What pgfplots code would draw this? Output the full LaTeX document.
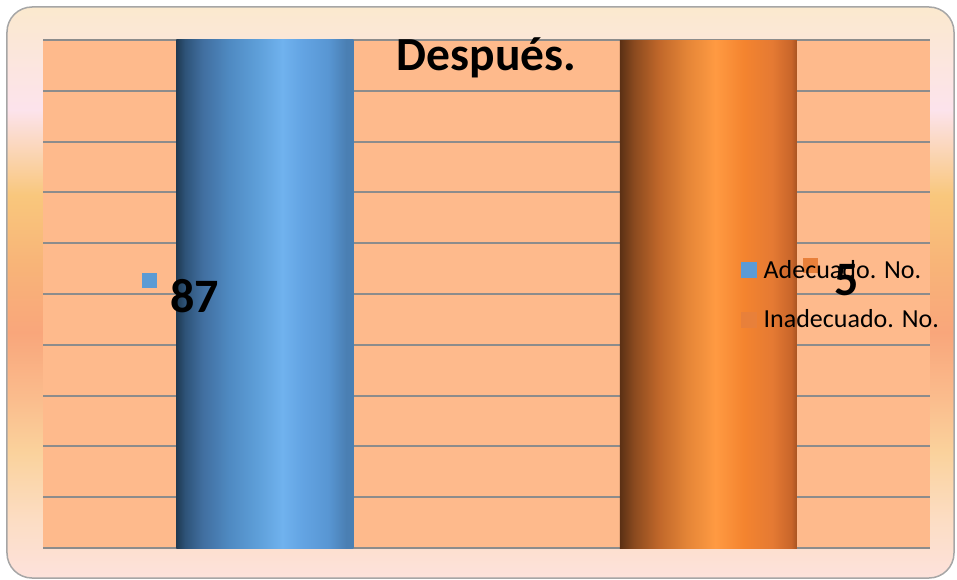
\documentclass[border=0pt]{standalone}
\usepackage{pgfplots}
\pgfplotsset{compat=1.18}
\usepackage{fontspec}
\setmainfont{Carlito}

\definecolor{plotbg}{HTML}{FEBA8C}
\definecolor{gridgray}{HTML}{8C8C8C}
\definecolor{framegray}{HTML}{A6A6A6}
\definecolor{adeq}{HTML}{5B9BD5}
\definecolor{inad}{HTML}{E8803A}

\definecolor{bgA}{HTML}{FBE9CE}
\definecolor{bgB}{HTML}{FCE3EC}
\definecolor{bgC}{HTML}{F9C77C}
\definecolor{bgD}{HTML}{F8B478}
\definecolor{bgE}{HTML}{F9A67B}
\definecolor{bgF}{HTML}{FABB8C}
\definecolor{bgG}{HTML}{FAD29C}
\definecolor{bgH}{HTML}{FCDDC4}
\definecolor{bgI}{HTML}{FDE2DC}

\pgfdeclareverticalshading{bgshade}{100bp}{%
 color(0bp)=(bgI); color(25bp)=(bgI);
 color(30bp)=(bgH); color(36bp)=(bgG); color(41bp)=(bgF);
 color(46.5bp)=(bgE); color(52.5bp)=(bgD); color(58.5bp)=(bgC);
 color(66bp)=(bgB); color(75bp)=(bgA); color(100bp)=(bgA)}

\definecolor{bl0}{HTML}{1F3A52}
\definecolor{bl1}{HTML}{2E5378}
\definecolor{bl2}{HTML}{416FA0}
\definecolor{bl3}{HTML}{4F8AC2}
\definecolor{bl4}{HTML}{5E9FD9}
\definecolor{bl5}{HTML}{70B2EE}
\definecolor{bl6}{HTML}{64A5E4}
\definecolor{bl7}{HTML}{5896D3}
\definecolor{bl8}{HTML}{4A7FB3}
\pgfdeclarehorizontalshading{blueshade}{100bp}{%
 color(0bp)=(bl0); color(25bp)=(bl0);
 color(27.5bp)=(bl1); color(32.5bp)=(bl2); color(40bp)=(bl3);
 color(48bp)=(bl4); color(55bp)=(bl5); color(60bp)=(bl6);
 color(68bp)=(bl7); color(73bp)=(bl8); color(75bp)=(bl8); color(100bp)=(bl8)}

\definecolor{or0}{HTML}{5B3014}
\definecolor{or1}{HTML}{8A4A1F}
\definecolor{or2}{HTML}{C0672A}
\definecolor{or3}{HTML}{E48537}
\definecolor{or4}{HTML}{FF9A42}
\definecolor{or5}{HTML}{F4842F}
\definecolor{or6}{HTML}{E57A33}
\definecolor{or7}{HTML}{C8652A}
\definecolor{or8}{HTML}{A85522}
\pgfdeclarehorizontalshading{orangeshade}{100bp}{%
 color(0bp)=(or0); color(25bp)=(or0);
 color(29bp)=(or1); color(36bp)=(or2); color(44bp)=(or3);
 color(52bp)=(or4); color(60bp)=(or5); color(68bp)=(or6);
 color(73.5bp)=(or7); color(75bp)=(or8); color(100bp)=(or8)}

\begin{document}
\begin{tikzpicture}
\path[use as bounding box] (-43pt,-31pt) rectangle (914pt,548pt);
\shade[shading=bgshade, draw=framegray, line width=1.5pt, rounded corners=25pt]
  (-36pt,-30pt) rectangle (911pt,541pt);

\begin{axis}[
  scale only axis, width=887pt, height=508pt,
  at={(0pt,0pt)}, anchor=south west,
  xmin=-0.5, xmax=1.5, ymin=0, ymax=87,
  axis line style={draw=none},
  axis background/.style={fill=plotbg},
  ytick={0,8.7,17.4,26.1,34.8,43.5,52.2,60.9,69.6,78.3,87},
  yticklabels={}, xtick=\empty, major tick length=0pt,
  ymajorgrids, grid style={gridgray, line width=2pt},
  clip=false,
  /pgf/number format/assume math mode=true,
  title={Después.},
  title style={font=\fontsize{47.5}{56}\selectfont\bfseries,
    at={(axis description cs:0.5,0.929)}, anchor=base},
]
\addplot[ybar, bar width=177pt, draw=none, shading=blueshade,
  nodes near coords={\llap{\smash{\textcolor{adeq}{\raisebox{24pt}{\rule{15pt}{15pt}}}}\hspace{13pt}}\pgfmathprintnumber{\pgfplotspointmeta}},
  every node near coord/.append style={font=\fontsize{48}{56}\selectfont\bfseries,
    text=black, anchor=base, xshift=-70pt, yshift=-272pt}]
  coordinates {(0,87)};
\end{axis}

\begin{axis}[
  scale only axis, width=887pt, height=508pt,
  at={(0pt,0pt)}, anchor=south west,
  xmin=-0.5, xmax=1.5, ymin=0, ymax=5,
  hide axis, clip=false,
  /pgf/number format/assume math mode=true,
  legend style={at={(axis description cs:0.787,0.499)}, anchor=west,
    draw=none, fill=none, inner sep=0pt, row sep=26pt,
    font=\fontsize{26}{31}\selectfont,
    /tikz/every odd column/.append style={column sep=5pt}},
  legend cell align=left,
]
\addplot[ybar, bar width=177pt, draw=none, shading=orangeshade, forget plot,
  nodes near coords={\llap{\smash{\textcolor{inad}{\raisebox{22pt}{\rule{15pt}{15pt}}}}\hspace{16pt}}\pgfmathprintnumber{\pgfplotspointmeta}},
  every node near coord/.append style={font=\fontsize{48}{56}\selectfont\bfseries,
    text=black, anchor=base, xshift=138pt, yshift=-255pt}]
  coordinates {(1,5)};
\addlegendimage{legend image code/.code={\fill[adeq] (0pt,-7.5pt) rectangle (15pt,7.5pt);}}
\addlegendentry{Adecuado. No.}
\addlegendimage{legend image code/.code={\fill[inad] (0pt,-7.5pt) rectangle (15pt,7.5pt);}}
\addlegendentry{Inadecuado. No.}
\end{axis}
\end{tikzpicture}
\end{document}
